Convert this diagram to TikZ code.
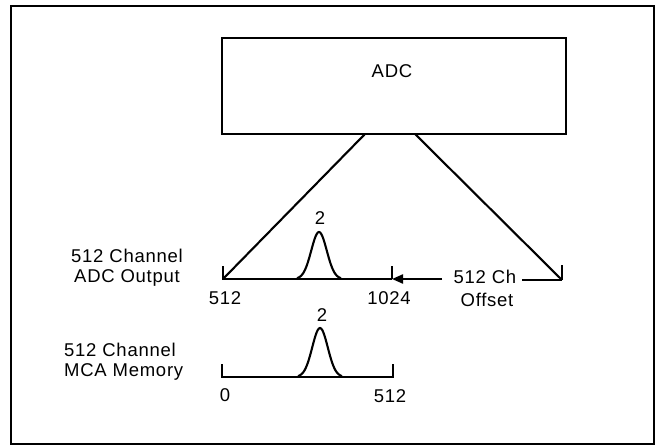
\documentclass[tikz,border=0pt]{standalone}
\usepackage{fontspec}
\setmainfont{Liberation Sans}[LetterSpace=4]
\usetikzlibrary{arrows.meta}
\tikzset{
  lbl/.style={font=\fontsize{18.5}{20}\selectfont, inner sep=0pt},
  frame/.style={line width=2.6pt},
  box/.style={draw, line width=2.4pt, minimum width=344pt, minimum height=96pt, inner sep=0pt},
  ln/.style={line width=2.1pt},
  arrowln/.style={line width=2.1pt, -{Triangle[length=11pt,width=9pt]}},
}
\begin{document}
\begin{tikzpicture}[x=1pt,y=-1pt]
\useasboundingbox (0,0) rectangle (662,447);
\draw[frame] (11,6) rectangle (654,444);
% ADC box
\node[box] (adc) at (394,86) {};
\node[lbl] (adctext) at (392,71) {ADC};
% fan lines
\coordinate (a1) at (365,134);
\coordinate (a2) at (415,134);
\coordinate (u0) at (223,279);
\coordinate (u1) at (392,279);
\coordinate (r0) at (562,280);
\draw[ln] (a1) -- (u0);
\draw[ln] (a2) -- (r0);
% upper axis
\draw[ln] (223,266) -- (u0) -- (u1);
\draw[ln] (392,266) -- (u1);
\draw[ln] (562,265) -- (r0);
\node[lbl] (ch) at (485,277) {512 Ch};
\node[lbl] (offset) at (487,300) {Offset};
\coordinate (chL) at (442,279);
\coordinate (chR) at (522,280);
\draw[arrowln] (chL) -- (u1);
\draw[ln] (chR) -- (r0);
% upper peak
\draw[ln, smooth, samples=41, domain=-22:22] plot ({319+\x},{279-47*exp(-(\x*\x)/120)});
\node[lbl] (two1) at (320,218) {2};
\node[lbl] (ax512) at (225,298) {512};
\node[lbl] (ax1024) at (389,298) {1024};
\node[lbl, align=center] (adcout) at (127,268) {512 Channel\\ADC Output};
% lower axis
\coordinate (l0) at (222,377);
\coordinate (l1) at (393,377);
\draw[ln] (222,364) -- (l0) -- (l1) -- (393,364);
\draw[ln, smooth, samples=41, domain=-22:22] plot ({320+\x},{377-49*exp(-(\x*\x)/120)});
\node[lbl] (two2) at (322,315) {2};
\node[lbl] (ax0) at (225,395) {0};
\node[lbl] (ax512b) at (390,396) {512};
\node[lbl, align=left, anchor=west] (mca) at (64,362) {512 Channel\\MCA Memory};
\end{tikzpicture}
\end{document}
